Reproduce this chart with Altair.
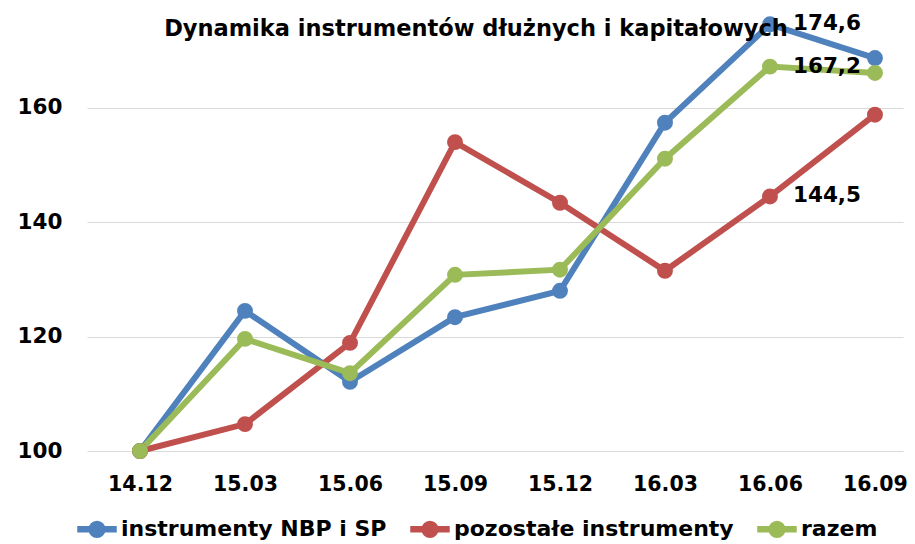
import json
import altair as alt
import pandas as pd

CATEGORIES = ["14.12", "15.03", "15.06", "15.09", "15.12", "16.03", "16.06", "16.09"]
SERIES = ["instrumenty NBP i SP", "pozostałe instrumenty", "razem"]
NBP_SP = [100, 124.5, 112.1, 123.4, 128.0, 157.4, 174.6, 168.7]
POZOSTALE = [100, 104.7, 118.9, 154.0, 143.4, 131.5, 144.5, 158.8]
RAZEM = [100, 119.6, 113.6, 130.8, 131.7, 151.1, 167.2, 166.1]
COLORS = ["#4F81BD", "#C0504D", "#9BBB59"]
Y_TICKS = [100, 120, 140, 160]
LABEL_CATEGORY = "16.06"
TITLE = "Dynamika instrumentów dłużnych i kapitałowych"
FONT = "DejaVu Sans"

rows = []
for name, vals in zip(SERIES, [NBP_SP, POZOSTALE, RAZEM]):
    for i, (cat, v) in enumerate(zip(CATEGORIES, vals)):
        rows.append({"series": name, "cat": cat, "idx": i, "value": v})
df = pd.DataFrame(rows)

li = CATEGORIES.index(LABEL_CATEGORY)
lab = df[df["idx"] == li].copy()
lab["text"] = lab["value"].map(lambda v: f"{v:.1f}".replace(".", ","))

label_expr = json.dumps(CATEGORIES) + "[datum.value]"

LEGEND_PATH = (
    "M-1,0L1,0 "
    "M0.15,0A0.15,0.15 0 1,1 -0.15,0A0.15,0.15 0 1,1 0.15,0 "
    "M0.27,0A0.27,0.27 0 1,1 -0.27,0A0.27,0.27 0 1,1 0.27,0"
)

x_enc = alt.X(
    "idx:Q",
    scale=alt.Scale(domain=[-0.505, 7.267], nice=False, zero=False),
    axis=alt.Axis(
        values=list(range(len(CATEGORIES))), labelExpr=label_expr, title=None,
        grid=False, domain=False, ticks=False, labelFontSize=20.5,
        labelFontWeight="bold", labelFont=FONT, labelColor="black", labelPadding=23,
    ),
)
y_enc = alt.Y(
    "value:Q",
    scale=alt.Scale(domain=[100, 176.4], nice=False, zero=False),
    axis=alt.Axis(
        values=Y_TICKS, title=None, domain=False, ticks=False, grid=True,
        gridColor="#D9D9D9", gridWidth=1, labelFontSize=21.5, labelFontWeight="bold",
        labelFont=FONT, labelColor="black", labelPadding=25,
    ),
)

lines = alt.Chart(df).mark_line(
    strokeWidth=6,
    point=alt.OverlayMarkDef(filled=True, size=254, opacity=1),
).encode(
    x=x_enc,
    y=y_enc,
    color=alt.Color(
        "series:N",
        sort=SERIES,
        scale=alt.Scale(domain=SERIES, range=COLORS),
        legend=alt.Legend(
            title=None, orient="none", legendX=-13, legendY=492,
            direction="horizontal", symbolType=LEGEND_PATH, symbolSize=1560,
            symbolStrokeWidth=6.5, labelFontSize=22, labelFontWeight="bold",
            labelFont=FONT, labelColor="black", columnPadding=10, labelOffset=1,
            padding=0, labelLimit=500,
        ),
    ),
)

labels = alt.Chart(lab).mark_text(
    align="left", baseline="middle", dx=23, fontSize=21.5, fontWeight="bold",
    font=FONT, color="black",
).encode(x="idx:Q", y="value:Q", text="text:N")

chart = alt.layer(lines, labels).properties(
    width=816,
    height=437,
    background="white",
    title=alt.Title(TITLE, fontSize=22.5, fontWeight="bold", font=FONT, color="black",
                    anchor="middle", offset=0, dx=-19, dy=28),
    autosize=alt.AutoSizeParams(type="none"),
    padding={"left": 79, "top": 6, "right": 4, "bottom": 93},
).configure_view(stroke=None)

chart.save("out.html", embed_options={"renderer": "svg", "actions": False})
